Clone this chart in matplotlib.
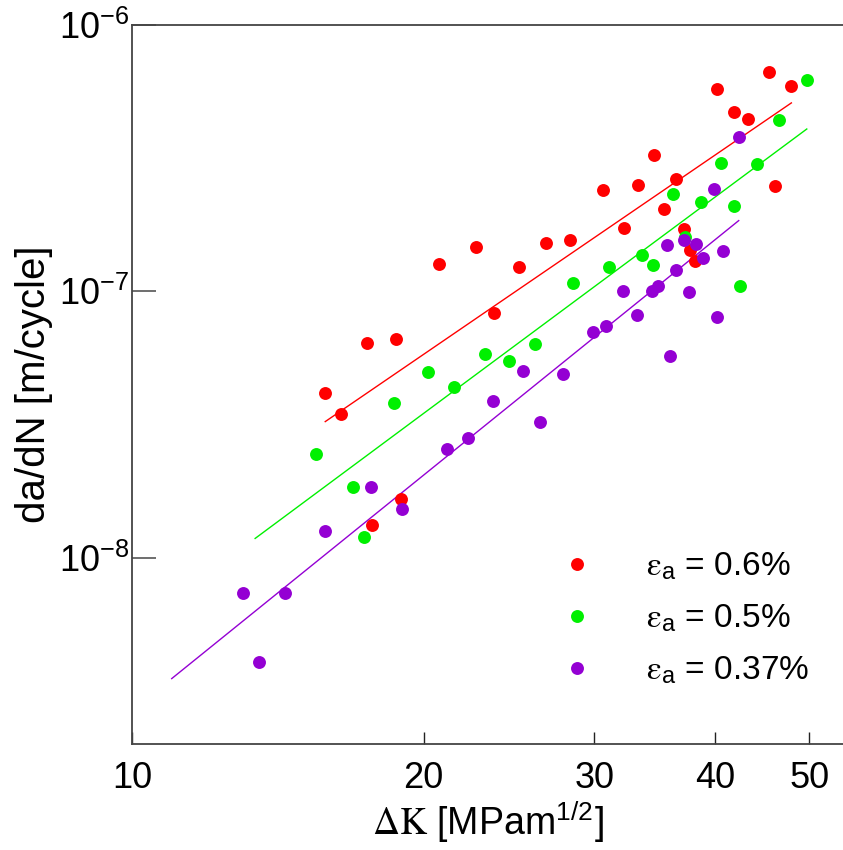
import matplotlib
matplotlib.use("Agg")
import matplotlib.pyplot as plt
from matplotlib import font_manager as fm

# pick a narrow sans if it is there, else plain Liberation Sans
try:
    fm.findfont("Liberation Sans Narrow", fallback_to_default=False)
    SANS = "Liberation Sans Narrow"
except Exception:
    SANS = "Liberation Sans"

plt.rcParams["font.family"] = [SANS, "DejaVu Sans"]
plt.rcParams["mathtext.fontset"] = "stix"

# ---- data (dK in MPa m^1/2, da/dN in m/cycle) ----
dk_06 = [15.83, 16.43, 17.47, 18.73, 20.76, 22.68, 23.66, 25.11, 26.76, 28.35,
         30.66, 32.21, 33.30, 34.62, 35.42, 36.48, 37.12, 37.68, 38.16, 40.21,
         41.82, 43.25, 45.44, 46.16, 47.95, 17.70, 18.97]
dadn_06 = [4.16e-8, 3.47e-8, 6.39e-8, 6.64e-8, 1.263e-7, 1.467e-7, 8.29e-8, 1.234e-7,
           1.515e-7, 1.564e-7, 2.41e-7, 1.736e-7, 2.503e-7, 3.237e-7, 2.038e-7,
           2.652e-7, 1.715e-7, 1.435e-7, 1.297e-7, 5.745e-7, 4.697e-7, 4.42e-7,
           6.675e-7, 2.497e-7, 5.88e-7, 1.333e-8, 1.657e-8]

dk_05 = [15.49, 16.90, 17.34, 18.64, 20.21, 21.50, 23.13, 24.52, 26.09, 28.51,
         31.05, 33.64, 34.54, 36.20, 37.27, 38.66, 40.54, 41.78, 42.45, 44.16,
         46.52, 49.74]
dadn_05 = [2.454e-8, 1.849e-8, 1.192e-8, 3.826e-8, 5.0e-8, 4.38e-8, 5.81e-8, 5.49e-8,
           6.36e-8, 1.075e-7, 1.234e-7, 1.366e-7, 1.252e-7, 2.322e-7, 1.6e-7,
           2.174e-7, 3.046e-7, 2.093e-7, 1.044e-7, 3.01e-7, 4.395e-7, 6.214e-7]

dk_037 = [13.03, 13.53, 14.40, 15.81, 17.63, 19.00, 21.14, 22.21, 23.61, 25.31,
          26.38, 27.86, 29.91, 30.87, 32.16, 33.24, 34.45, 34.95, 35.65, 35.93,
          36.48, 37.15, 37.60, 38.25, 38.85, 39.90, 40.18, 40.76, 42.31]
dadn_037 = [7.385e-9, 4.054e-9, 7.385e-9, 1.26e-8, 1.849e-8, 1.519e-8, 2.563e-8,
            2.818e-8, 3.87e-8, 5.01e-8, 3.245e-8, 4.915e-8, 7.01e-8, 7.385e-8,
            1.0e-7, 8.175e-8, 1.0e-7, 1.044e-7, 1.493e-7, 5.71e-8, 1.207e-7,
            1.555e-7, 9.94e-8, 1.511e-7, 1.339e-7, 2.433e-7, 7.987e-8, 1.422e-7,
            3.782e-7]

# Paris-law fit lines, given by their two end points
fit_dk_06 = [15.83, 47.94]
fit_dadn_06 = [3.245e-8, 5.10e-7]
fit_dk_05 = [13.40, 49.73]
fit_dadn_05 = [1.182e-8, 4.07e-7]
fit_dk_037 = [10.99, 42.30]
fit_dadn_037 = [3.52e-9, 1.844e-7]

labels = [r"$\mathrm{\varepsilon}_{\mathregular{a}}$ = 0.6%",
          r"$\mathrm{\varepsilon}_{\mathregular{a}}$ = 0.5%",
          r"$\mathrm{\varepsilon}_{\mathregular{a}}$ = 0.37%"]
colors = ["#ff0000", "#00f000", "#9400d3"]

x_ticks = [10, 20, 30, 40, 50]
y_ticks = [1e-8, 1e-7, 1e-6]
y_tick_labels = [r"$\mathregular{10^{-8}}$", r"$\mathregular{10^{-7}}$",
                 r"$\mathregular{10^{-6}}$"]

fig = plt.figure(figsize=(8.43, 8.5), dpi=100)
ax = fig.add_axes([132 / 843, 106 / 850, 711 / 843, 719 / 850])
ax.set_xscale("log")
ax.set_yscale("log")

series = [(dk_06, dadn_06, fit_dk_06, fit_dadn_06),
          (dk_05, dadn_05, fit_dk_05, fit_dadn_05),
          (dk_037, dadn_037, fit_dk_037, fit_dadn_037)]

for (xs, ys, fx, fy), c, lab in zip(series, colors, labels):
    ax.plot(fx, fy, color=c, lw=1.0, zorder=2)
    ax.plot(xs, ys, "o", color=c, ms=9.3, mec="none", label=lab, zorder=3)

ax.set_xlim(10, 54.2)
ax.set_ylim(2e-9, 1e-6)

ax.minorticks_off()
ax.set_xticks(x_ticks)
ax.set_xticklabels([str(t) for t in x_ticks])
ax.set_yticks(y_ticks)
ax.set_yticklabels(y_tick_labels)
ax.tick_params(axis="x", direction="in", length=8.5, width=1, color="#222222",
               labelsize=26, pad=12)
ax.tick_params(axis="y", direction="in", length=17, width=1.2, color="#555555",
               labelsize=26, pad=2)

for s in ["left", "bottom", "top"]:
    ax.spines[s].set_color("#444444")
    ax.spines[s].set_linewidth(1.3)
ax.spines["right"].set_visible(False)

ax.set_xlabel(r"$\mathrm{\Delta K}$ [MPam$^{\mathregular{1/2}}$]", fontsize=27, labelpad=3)
ax.set_ylabel("da/dN [m/cycle]", fontsize=29, labelpad=4)

ax.legend(loc="upper left", bbox_to_anchor=(0.584, 0.287), frameon=False,
          fontsize=24, handlelength=1.0, handletextpad=1.57, labelspacing=0.62,
          borderaxespad=0, numpoints=1)

fig.savefig("out.png", dpi=100)
